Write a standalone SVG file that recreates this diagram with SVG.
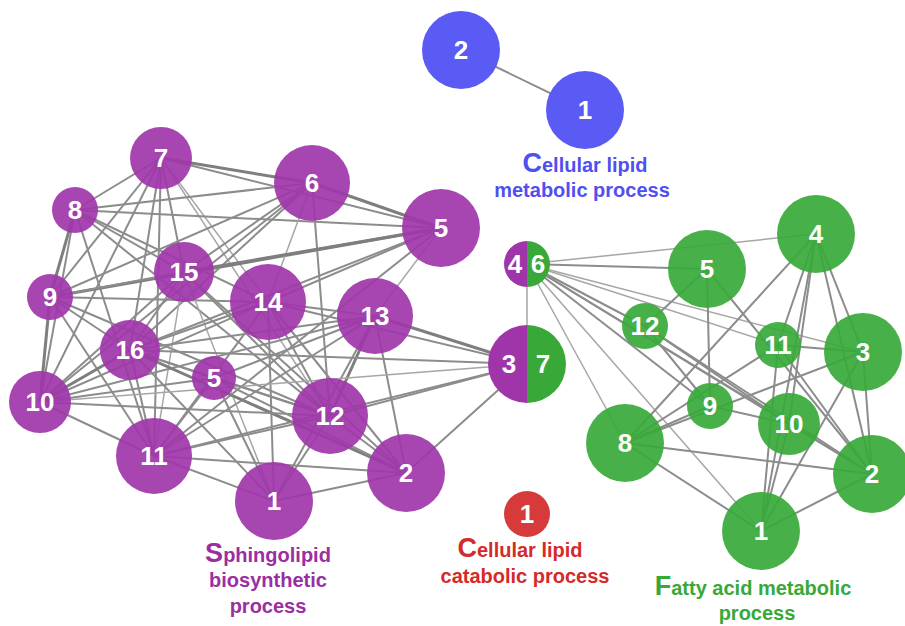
<svg xmlns="http://www.w3.org/2000/svg" width="905" height="626" viewBox="0 0 905 626">
<style>
.e{stroke:#8c8c8c;stroke-width:2;fill:none}
.t{stroke:#7e7e7e;stroke-width:3;fill:none}
.l{stroke:#a6a6a6;stroke-width:1.5;fill:none}
.p{fill:#a035aa;fill-opacity:0.92}
.g{fill:#38a938;fill-opacity:0.92}
.b{fill:#5a5af5}
.r{fill:#d63a3a}
.n{font-family:"Liberation Sans",Arial,sans-serif;font-weight:bold;font-size:26px;fill:#fff;text-anchor:middle}
.lab{font-family:"Liberation Sans",Arial,sans-serif;font-weight:bold;font-size:20px;text-anchor:middle}
.big{font-size:27px}
</style>
<rect width="905" height="626" fill="#fff"/>
<g id="connectors">
<line class="e" x1="461" y1="50" x2="585" y2="110"/>
<!-- purple -->
<line class="e" x1="161" y1="158" x2="75" y2="210"/>
<line class="t" x1="161" y1="158" x2="312" y2="183"/>
<line class="e" x1="161" y1="158" x2="441" y2="228"/>
<line class="e" x1="161" y1="158" x2="50" y2="297"/>
<line class="e" x1="161" y1="158" x2="40" y2="402"/>
<line class="e" x1="161" y1="158" x2="184" y2="272"/>
<line class="l" x1="161" y1="158" x2="268" y2="302"/>
<line class="e" x1="161" y1="158" x2="154" y2="456"/>
<line class="e" x1="161" y1="158" x2="130" y2="350"/>
<line class="l" x1="161" y1="158" x2="330" y2="416"/>
<line class="e" x1="75" y1="210" x2="312" y2="183"/>
<line class="e" x1="75" y1="210" x2="441" y2="228"/>
<line class="t" x1="75" y1="210" x2="50" y2="297"/>
<line class="e" x1="75" y1="210" x2="184" y2="272"/>
<line class="e" x1="75" y1="210" x2="268" y2="302"/>
<line class="e" x1="75" y1="210" x2="40" y2="402"/>
<line class="e" x1="75" y1="210" x2="330" y2="416"/>
<line class="e" x1="75" y1="210" x2="154" y2="456"/>
<line class="e" x1="50" y1="297" x2="312" y2="183"/>
<line class="t" x1="50" y1="297" x2="441" y2="228"/>
<line class="e" x1="50" y1="297" x2="184" y2="272"/>
<line class="t" x1="50" y1="297" x2="40" y2="402"/>
<line class="e" x1="50" y1="297" x2="130" y2="350"/>
<line class="e" x1="50" y1="297" x2="154" y2="456"/>
<line class="e" x1="50" y1="297" x2="268" y2="302"/>
<line class="e" x1="50" y1="297" x2="330" y2="416"/>
<line class="t" x1="312" y1="183" x2="441" y2="228"/>
<line class="e" x1="312" y1="183" x2="184" y2="272"/>
<line class="e" x1="312" y1="183" x2="130" y2="350"/>
<line class="l" x1="312" y1="183" x2="268" y2="302"/>
<line class="e" x1="312" y1="183" x2="330" y2="416"/>
<line class="e" x1="312" y1="183" x2="40" y2="402"/>
<line class="t" x1="441" y1="228" x2="184" y2="272"/>
<line class="l" x1="441" y1="228" x2="375" y2="316"/>
<line class="e" x1="441" y1="228" x2="268" y2="302"/>
<line class="e" x1="441" y1="228" x2="130" y2="350"/>
<line class="e" x1="441" y1="228" x2="154" y2="456"/>
<line class="e" x1="184" y1="272" x2="130" y2="350"/>
<line class="e" x1="184" y1="272" x2="40" y2="402"/>
<line class="e" x1="184" y1="272" x2="330" y2="416"/>
<line class="e" x1="184" y1="272" x2="406" y2="473"/>
<line class="l" x1="184" y1="272" x2="274" y2="501"/>
<line class="l" x1="184" y1="272" x2="154" y2="456"/>
<line class="e" x1="268" y1="302" x2="130" y2="350"/>
<line class="e" x1="268" y1="302" x2="40" y2="402"/>
<line class="e" x1="268" y1="302" x2="375" y2="316"/>
<line class="e" x1="268" y1="302" x2="527" y2="364"/>
<line class="e" x1="268" y1="302" x2="274" y2="501"/>
<line class="e" x1="268" y1="302" x2="330" y2="416"/>
<line class="e" x1="268" y1="302" x2="406" y2="473"/>
<line class="e" x1="268" y1="302" x2="154" y2="456"/>
<line class="e" x1="375" y1="316" x2="130" y2="350"/>
<line class="e" x1="375" y1="316" x2="40" y2="402"/>
<line class="t" x1="375" y1="316" x2="527" y2="364"/>
<line class="t" x1="375" y1="316" x2="330" y2="416"/>
<line class="e" x1="375" y1="316" x2="406" y2="473"/>
<line class="e" x1="375" y1="316" x2="154" y2="456"/>
<line class="e" x1="375" y1="316" x2="274" y2="501"/>
<line class="e" x1="130" y1="350" x2="154" y2="456"/>
<line class="e" x1="130" y1="350" x2="214" y2="378"/>
<line class="e" x1="130" y1="350" x2="330" y2="416"/>
<line class="t" x1="130" y1="350" x2="406" y2="473"/>
<line class="e" x1="130" y1="350" x2="274" y2="501"/>
<line class="t" x1="130" y1="350" x2="40" y2="402"/>
<line class="e" x1="130" y1="350" x2="527" y2="364"/>
<line class="e" x1="40" y1="402" x2="154" y2="456"/>
<line class="e" x1="40" y1="402" x2="330" y2="416"/>
<line class="l" x1="40" y1="402" x2="527" y2="364"/>
<line class="e" x1="40" y1="402" x2="214" y2="378"/>
<line class="e" x1="214" y1="378" x2="330" y2="416"/>
<line class="e" x1="214" y1="378" x2="406" y2="473"/>
<line class="e" x1="214" y1="378" x2="274" y2="501"/>
<line class="e" x1="214" y1="378" x2="154" y2="456"/>
<line class="e" x1="214" y1="378" x2="375" y2="316"/>
<line class="e" x1="154" y1="456" x2="330" y2="416"/>
<line class="e" x1="154" y1="456" x2="274" y2="501"/>
<line class="e" x1="154" y1="456" x2="406" y2="473"/>
<line class="e" x1="154" y1="456" x2="527" y2="364"/>
<line class="e" x1="330" y1="416" x2="406" y2="473"/>
<line class="e" x1="330" y1="416" x2="274" y2="501"/>
<line class="e" x1="330" y1="416" x2="527" y2="364"/>
<line class="e" x1="406" y1="473" x2="527" y2="364"/>
<line class="e" x1="406" y1="473" x2="274" y2="501"/>
<line class="l" x1="527" y1="264" x2="527" y2="364"/>
<!-- green -->
<line class="l" x1="527" y1="264" x2="816" y2="234"/>
<line class="e" x1="527" y1="264" x2="707" y2="269"/>
<line class="l" x1="527" y1="264" x2="863" y2="352"/>
<line class="l" x1="527" y1="264" x2="778" y2="345"/>
<line class="e" x1="527" y1="264" x2="789" y2="424"/>
<line class="e" x1="527" y1="264" x2="872" y2="474"/>
<line class="e" x1="527" y1="264" x2="710" y2="406"/>
<line class="e" x1="527" y1="264" x2="645" y2="326"/>
<line class="l" x1="527" y1="264" x2="625" y2="443"/>
<line class="l" x1="527" y1="264" x2="761" y2="531"/>
<line class="e" x1="707" y1="269" x2="645" y2="326"/>
<line class="e" x1="707" y1="269" x2="710" y2="406"/>
<line class="e" x1="707" y1="269" x2="872" y2="474"/>
<line class="e" x1="816" y1="234" x2="625" y2="443"/>
<line class="e" x1="816" y1="234" x2="778" y2="345"/>
<line class="e" x1="816" y1="234" x2="789" y2="424"/>
<line class="e" x1="816" y1="234" x2="761" y2="531"/>
<line class="e" x1="816" y1="234" x2="863" y2="352"/>
<line class="e" x1="816" y1="234" x2="872" y2="474"/>
<line class="e" x1="645" y1="326" x2="789" y2="424"/>
<line class="e" x1="645" y1="326" x2="710" y2="406"/>
<line class="e" x1="645" y1="326" x2="872" y2="474"/>
<line class="e" x1="778" y1="345" x2="863" y2="352"/>
<line class="e" x1="778" y1="345" x2="625" y2="443"/>
<line class="e" x1="778" y1="345" x2="761" y2="531"/>
<line class="e" x1="778" y1="345" x2="872" y2="474"/>
<line class="e" x1="863" y1="352" x2="625" y2="443"/>
<line class="e" x1="863" y1="352" x2="761" y2="531"/>
<line class="e" x1="863" y1="352" x2="872" y2="474"/>
<line class="e" x1="710" y1="406" x2="789" y2="424"/>
<line class="e" x1="710" y1="406" x2="625" y2="443"/>
<line class="e" x1="625" y1="443" x2="872" y2="474"/>
<line class="e" x1="625" y1="443" x2="761" y2="531"/>
<line class="e" x1="789" y1="424" x2="761" y2="531"/>
<line class="e" x1="789" y1="424" x2="872" y2="474"/>
<line class="e" x1="872" y1="474" x2="761" y2="531"/>
</g>
<g id="blue-2"><circle class="b" cx="461" cy="50" r="39"/><text class="n" x="461" y="59">2</text></g>
<g id="blue-1"><circle class="b" cx="585" cy="110" r="39"/><text class="n" x="585" y="119">1</text></g>
<g id="p7"><circle class="p" cx="161" cy="158" r="31"/><text class="n" x="161" y="167">7</text></g>
<g id="p8"><circle class="p" cx="75" cy="210" r="23"/><text class="n" x="75" y="219">8</text></g>
<g id="p6"><circle class="p" cx="312" cy="183" r="38"/><text class="n" x="312" y="192">6</text></g>
<g id="p5a"><circle class="p" cx="441" cy="228" r="39"/><text class="n" x="441" y="237">5</text></g>
<g id="p15"><circle class="p" cx="184" cy="272" r="30"/><text class="n" x="184" y="281">15</text></g>
<g id="p9"><circle class="p" cx="50" cy="297" r="23"/><text class="n" x="50" y="306">9</text></g>
<g id="p14"><circle class="p" cx="268" cy="302" r="38"/><text class="n" x="268" y="311">14</text></g>
<g id="p13"><circle class="p" cx="375" cy="316" r="38"/><text class="n" x="375" y="325">13</text></g>
<g id="p16"><circle class="p" cx="130" cy="350" r="30"/><text class="n" x="130" y="359">16</text></g>
<g id="p5b"><circle class="p" cx="214" cy="378" r="22"/><text class="n" x="214" y="387">5</text></g>
<g id="p10"><circle class="p" cx="40" cy="402" r="31"/><text class="n" x="40" y="411">10</text></g>
<g id="p12"><circle class="p" cx="330" cy="416" r="38"/><text class="n" x="330" y="425">12</text></g>
<g id="p11"><circle class="p" cx="154" cy="456" r="38"/><text class="n" x="154" y="465">11</text></g>
<g id="p2"><circle class="p" cx="406" cy="473" r="39"/><text class="n" x="406" y="482">2</text></g>
<g id="p1"><circle class="p" cx="274" cy="501" r="39"/><text class="n" x="274" y="510">1</text></g>
<g id="split-4-6"><path d="M527,241 A23,23 0 0 0 527,287 Z" fill="#a035aa"/><path d="M527,241 A23,23 0 0 1 527,287 Z" fill="#38a938"/><text class="n" x="515" y="273">4</text><text class="n" x="538" y="273">6</text></g>
<g id="split-3-7"><path d="M527,325 A39,39 0 0 0 527,403 Z" fill="#a035aa"/><path d="M527,325 A39,39 0 0 1 527,403 Z" fill="#38a938"/><text class="n" x="509" y="373">3</text><text class="n" x="543" y="373">7</text></g>
<g id="g4"><circle class="g" cx="816" cy="234" r="39"/><text class="n" x="816" y="243">4</text></g>
<g id="g5"><circle class="g" cx="707" cy="269" r="39"/><text class="n" x="707" y="278">5</text></g>
<g id="g12"><circle class="g" cx="645" cy="326" r="23"/><text class="n" x="645" y="335">12</text></g>
<g id="g11"><circle class="g" cx="778" cy="345" r="23"/><text class="n" x="778" y="354">11</text></g>
<g id="g3"><circle class="g" cx="863" cy="352" r="39"/><text class="n" x="863" y="361">3</text></g>
<g id="g9"><circle class="g" cx="710" cy="406" r="23"/><text class="n" x="710" y="415">9</text></g>
<g id="g10"><circle class="g" cx="789" cy="424" r="31"/><text class="n" x="789" y="433">10</text></g>
<g id="g8"><circle class="g" cx="625" cy="443" r="39"/><text class="n" x="625" y="452">8</text></g>
<g id="g2"><circle class="g" cx="872" cy="474" r="39"/><text class="n" x="872" y="483">2</text></g>
<g id="g1"><circle class="g" cx="761" cy="531" r="39"/><text class="n" x="761" y="540">1</text></g>
<g id="r1"><circle class="r" cx="527" cy="514" r="23"/><text class="n" x="527" y="523">1</text></g>
<g id="labels">
<text class="lab" fill="#5050f0" x="585" y="172"><tspan class="big">C</tspan>ellular lipid</text>
<text class="lab" fill="#5050f0" x="582" y="197">metabolic process</text>
<text class="lab" fill="#9b2ea0" x="268" y="562"><tspan class="big">S</tspan>phingolipid</text>
<text class="lab" fill="#9b2ea0" x="268" y="587">biosynthetic</text>
<text class="lab" fill="#9b2ea0" x="268" y="613">process</text>
<text class="lab" fill="#d42a2a" x="520" y="557"><tspan class="big">C</tspan>ellular lipid</text>
<text class="lab" fill="#d42a2a" x="525" y="583">catabolic process</text>
<text class="lab" fill="#38a938" x="753" y="595"><tspan class="big">F</tspan>atty acid metabolic</text>
<text class="lab" fill="#38a938" x="757" y="620">process</text>
</g>
</svg>
